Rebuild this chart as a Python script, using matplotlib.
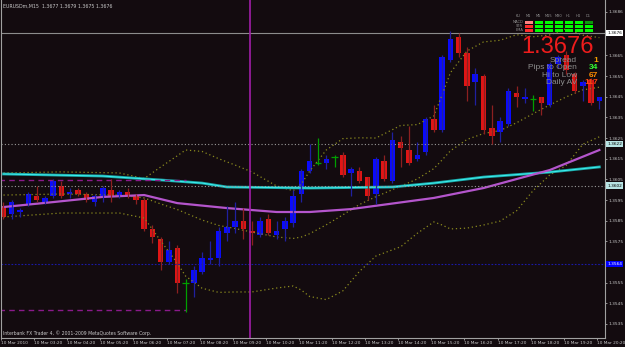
import matplotlib
matplotlib.use("Agg")
import matplotlib.pyplot as plt
import matplotlib.transforms as mtransforms
from matplotlib.patches import Rectangle

# ---- data ----
symbol = "EURUSDm,M15"
last_ohlc = ["1.3677", "1.3679", "1.3675", "1.3676"]

opens = [1.3592, 1.3588, 1.3589, 1.3593, 1.3597, 1.3594, 1.3597, 1.3602, 1.3598, 1.3600,
         1.3598, 1.3594, 1.3596, 1.3600, 1.3597, 1.3599, 1.3597, 1.3595, 1.3581, 1.3576,
         1.3565, 1.3572, 1.3555, 1.3555, 1.3560, 1.3566, 1.3567, 1.3579, 1.3582, 1.3585,
         1.3580, 1.3578, 1.3586, 1.3578, 1.3581, 1.3584, 1.3598, 1.3609, 1.3613, 1.3613,
         1.3616, 1.3617, 1.3608, 1.3609, 1.3606, 1.3598, 1.3614, 1.3604, 1.3623, 1.3619,
         1.3615, 1.3618, 1.3634, 1.3629, 1.3663, 1.3674, 1.3666, 1.3652, 1.3655, 1.3630,
         1.3628, 1.3632, 1.3647, 1.3644, 1.3644, 1.3645, 1.3641, 1.3661, 1.3665, 1.3656,
         1.3650, 1.3653, 1.3643]
highs = [1.3594, 1.3595, 1.3591, 1.3599, 1.3602, 1.3597, 1.3605, 1.3604, 1.3601, 1.3601,
         1.3599, 1.3598, 1.3602, 1.3605, 1.3600, 1.3601, 1.3598, 1.3596, 1.3583, 1.3577,
         1.3575, 1.3573, 1.3557, 1.3563, 1.3570, 1.3575, 1.3582, 1.3592, 1.3594, 1.3591,
         1.3585, 1.3587, 1.3588, 1.3585, 1.3587, 1.3600, 1.3610, 1.3622, 1.3625, 1.3617,
         1.3617, 1.3618, 1.3611, 1.3611, 1.3606, 1.3616, 1.3617, 1.3628, 1.3626, 1.3631,
         1.3623, 1.3635, 1.3641, 1.3665, 1.3677, 1.3676, 1.3669, 1.3659, 1.3656, 1.3641,
         1.3635, 1.3649, 1.3650, 1.3649, 1.3646, 1.3645, 1.3662, 1.3665, 1.3667, 1.3657,
         1.3653, 1.3654, 1.3645]
lows = [1.3586, 1.3586, 1.3587, 1.3592, 1.3594, 1.3593, 1.3596, 1.3596, 1.3596, 1.3597,
        1.3594, 1.3592, 1.3594, 1.3594, 1.3596, 1.3596, 1.3593, 1.3580, 1.3574, 1.3561,
        1.3564, 1.3550, 1.3541, 1.3548, 1.3559, 1.3564, 1.3563, 1.3575, 1.3579, 1.3576,
        1.3573, 1.3577, 1.3578, 1.3576, 1.3575, 1.3582, 1.3594, 1.3608, 1.3612, 1.3610,
        1.3611, 1.3606, 1.3597, 1.3603, 1.3595, 1.3593, 1.3604, 1.3603, 1.3611, 1.3612,
        1.3614, 1.3617, 1.3628, 1.3628, 1.3662, 1.3664, 1.3643, 1.3641, 1.3627, 1.3622,
        1.3623, 1.3631, 1.3640, 1.3642, 1.3638, 1.3636, 1.3640, 1.3659, 1.3656, 1.3647,
        1.3643, 1.3641, 1.3639]
closes = [1.3587, 1.3594, 1.3590, 1.3598, 1.3595, 1.3596, 1.3604, 1.3597, 1.3599, 1.3598,
          1.3595, 1.3597, 1.3601, 1.3597, 1.3599, 1.3597, 1.3595, 1.3581, 1.3577, 1.3565,
          1.3571, 1.3555, 1.3555, 1.3561, 1.3567, 1.3567, 1.3580, 1.3582, 1.3585, 1.3581,
          1.3579, 1.3585, 1.3579, 1.3580, 1.3585, 1.3597, 1.3609, 1.3614, 1.3613, 1.3615,
          1.3616, 1.3607, 1.3610, 1.3604, 1.3597, 1.3615, 1.3605, 1.3624, 1.3620, 1.3613,
          1.3617, 1.3634, 1.3629, 1.3664, 1.3673, 1.3666, 1.3650, 1.3656, 1.3629, 1.3626,
          1.3633, 1.3648, 1.3645, 1.3645, 1.3644, 1.3642, 1.3661, 1.3664, 1.3658, 1.3648,
          1.3652, 1.3642, 1.3645]

# moving averages (bar index, price)
ma_cyan_idx = [0, 12, 19, 24, 27, 37, 47, 52, 58, 66, 72]
ma_cyan = [1.36076, 1.36066, 1.36047, 1.36032, 1.36013, 1.36008, 1.36013, 1.36032,
           1.36061, 1.36085, 1.36110]
ma_violet_idx = [0, 6, 12, 17, 21, 27, 33, 37, 42, 52, 58, 66, 72]
ma_violet = [1.35916, 1.35940, 1.35965, 1.35974, 1.35935, 1.35911, 1.35892, 1.35892,
             1.35906, 1.35960, 1.36008, 1.36095, 1.36192]

# bollinger bands
bb_idx = [0, 7, 14, 17, 19, 21, 22, 24, 26, 28, 30, 33, 35, 36, 37, 39, 41, 43, 45,
          48, 50, 52, 53, 54, 56, 58, 60, 62, 64, 66, 68, 70, 72]
bb_upper = [1.36081, 1.36086, 1.36081, 1.36054, 1.36110, 1.36164, 1.36192, 1.36185,
            1.36150, 1.36119, 1.36086, 1.36018, 1.35995, 1.36028, 1.36090, 1.36192,
            1.36247, 1.36251, 1.36250, 1.36311, 1.36315, 1.36357, 1.36459, 1.36566,
            1.36671, 1.36715, 1.36723, 1.36750, 1.36740, 1.36749, 1.36779, 1.36748, 1.36736]
bb_mid = [1.35974, 1.35979, 1.35974, 1.35960, 1.35931, 1.35904, 1.35887, 1.35853,
          1.35827, 1.35812, 1.35795, 1.35771, 1.35764, 1.35771, 1.35787, 1.35830,
          1.35878, 1.35928, 1.35966, 1.36017, 1.36052, 1.36102, 1.36144, 1.36188,
          1.36243, 1.36272, 1.36286, 1.36324, 1.36368, 1.36410, 1.36449, 1.36483, 1.36496]
bb_lower = [1.35868, 1.35887, 1.35887, 1.35863, 1.35752, 1.35645, 1.35582, 1.35523,
            1.35503, 1.35505, 1.35505, 1.35524, 1.35534, 1.35514, 1.35483, 1.35468,
            1.35510, 1.35604, 1.35679, 1.35724, 1.35789, 1.35844, 1.35829, 1.35810,
            1.35814, 1.35829, 1.35848, 1.35898, 1.35996, 1.36071, 1.36118, 1.36220, 1.36256]

# horizontal levels
bid_price = 1.3676
grey_levels = [1.3622, 1.3602]
blue_level = 1.3564
day_levels = [1.36047, 1.35418]   # dashed purple lines, end at bar 22
day_levels_end = 22
session_bar = 29.8                # vertical magenta line

price_ticks = [1.3686, 1.3665, 1.3655, 1.3645, 1.3635, 1.3625, 1.3615, 1.3605,
               1.3595, 1.3585, 1.3575, 1.3555, 1.3545, 1.3535]
time_labels = ["10 Mar 2010"] + ["10 Mar %02d:20" % h for h in range(3, 21)]

stat_names = ["Spread", "Pips to Open", "Hi to Low", "Daily AV"]
stat_values = ["1", "34", "67", "117"]
stat_colors = ["#f0a000", "#33ff33", "#ff8c00", "#ff4a10"]

timeframes = ["M1", "M5", "M15", "M30", "H1", "H4", "D1"]
signal_rows = ["MACD", "STR", "EMA"]
signals = [[-1, 1, 1, 1, 1, 1, 2],
           [-1, 1, 1, 1, 1, 1, 1],
           [-1, 1, 1, 1, 1, 1, 1]]

# ---- style ----
BG = "#130b0f"
FG = "#c8c8c8"
UP = "#0a0aff"
DOWN = "#e01515"
SMALL = 3.1

W, H = 625, 347
fig = plt.figure(figsize=(W / 100, H / 100), dpi=100, facecolor=BG)
ax = fig.add_axes([1 / W, 9 / H, 604 / W, 338 / H], facecolor=BG)

n = len(opens)
xs = list(range(n))

# bands and averages first, candles on top
for band in (bb_upper, bb_mid, bb_lower):
    ax.plot(bb_idx, band, color="#8a8a1e", lw=0.9, ls=(0, (1, 2.2)))
ax.plot(ma_cyan_idx, ma_cyan, color="#1aa8a8", lw=2.0)
ax.plot(ma_cyan_idx, ma_cyan, color="#3ff0f0", lw=0.7)
ax.plot(ma_violet_idx, ma_violet, color="#b455cc", lw=1.6)

ax.axhline(bid_price, color="#8c8c8c", lw=0.8)
for lv in grey_levels:
    ax.axhline(lv, color="#9a9a9a", lw=0.8, ls=(0, (1, 2)))
ax.axhline(blue_level, color="#1a1aa8", lw=0.8, ls=(0, (1.5, 1.5)))
for lv in day_levels:
    ax.hlines(lv, -1, day_levels_end, color="#8a1a8a", lw=1.0, ls=(0, (4, 3)))
ax.axvline(session_bar, color="#a01ea8", lw=1.2)

for i in xs:
    o, h, l, c = opens[i], highs[i], lows[i], closes[i]
    if c > o:
        ax.vlines(i, l, h, color="#2020a0", lw=0.9)
        ax.bar(i, c - o, bottom=o, width=0.66, color=UP, lw=0)
    elif c < o:
        ax.vlines(i, l, h, color="#8c2020", lw=0.9)
        ax.bar(i, o - c, bottom=c, width=0.66, color=DOWN, lw=0)
    else:
        ax.vlines(i, l, h, color="#00a000", lw=0.9)
        ax.hlines(o, i - 0.4, i + 0.4, color="#00a000", lw=0.9)

ax.set_xlim(-0.18, 72.68)
ax.set_ylim(1.352822, 1.369180)

# right price scale
ax.yaxis.tick_right()
ax.set_yticks(price_ticks)
ax.set_yticklabels(["%.4f" % p for p in price_ticks])
ax.tick_params(axis="y", colors=FG, labelsize=SMALL, length=1.5, width=0.5, pad=1)
# time scale
tick_pos = [4 * k - 0.3 for k in range(len(time_labels))]
ax.set_xticks(tick_pos)
ax.set_xticklabels(time_labels)
for t in ax.get_xticklabels():
    t.set_ha("left")
ax.tick_params(axis="x", colors=FG, labelsize=SMALL, length=1.5, width=0.5, pad=1)

for s in ["left", "right", "bottom"]:
    ax.spines[s].set_color("#a0a0a0")
    ax.spines[s].set_linewidth(0.8)
ax.spines["top"].set_visible(False)

# boxed price labels on the scale
trans = mtransforms.blended_transform_factory(ax.transAxes, ax.transData)
boxes = [(bid_price, "white", "black"),
         (grey_levels[0], "#b8e4e4", "black"),
         (grey_levels[1], "#b8e4e4", "black"),
         (blue_level, "#0000ff", "white")]
for p, fc, tc in boxes:
    ax.text(1.004, p, "%.4f" % p, transform=trans, ha="left", va="center",
            fontsize=SMALL, color=tc, clip_on=False,
            bbox=dict(boxstyle="square,pad=0.25", fc=fc, ec="none"))

# ---- overlay in pixel coordinates for chart texts ----
ov = fig.add_axes([0, 0, 1, 1], facecolor="none")
ov.set_xlim(0, W)
ov.set_ylim(H, 0)
ov.axis("off")

ov.text(3, 6, symbol + "  " + " ".join(last_ohlc), fontsize=3.4, color=FG,
        va="center", ha="left")
ov.text(3, 333, "Interbank FX Trader 4, \u00a9 2001-2009 MetaQuotes Software Corp.",
        fontsize=3.3, color=FG, va="center", ha="left")

# signal grid
ov.text(518, 16, "KU", fontsize=2.6, color="#909090", ha="center", va="center")
for j, tf in enumerate(timeframes):
    cx = 528.5 + 10 * j
    ov.text(cx, 16, tf, fontsize=2.6, color="#909090", ha="center", va="center")
    for r in range(len(signal_rows)):
        s = signals[r][j]
        col = {-1: "#ff2a2a", 1: "#00ff00", 2: "#0a9a0a"}[s]
        if s == -1 and r == 0:
            col = "#ff8080"
        ov.add_patch(Rectangle((cx - 4, 21 + 4 * r), 8, 2.8, color=col, lw=0))
for r, name in enumerate(signal_rows):
    ov.text(523, 22.4 + 4 * r, name, fontsize=2.6, color="#909090", ha="right",
            va="center")

ov.text(594, 53, "1.3676", fontsize=17, color="#ee1c1c", family="Liberation Sans",
        ha="right", va="baseline")
for k, (nm, val, col) in enumerate(zip(stat_names, stat_values, stat_colors)):
    yb = 62 + 7.4 * k
    ov.text(577, yb, nm, fontsize=6, color="#8c8c8c", family="Liberation Sans",
            ha="right", va="baseline")
    ov.text(598, yb, val, fontsize=6, color=col, family="Liberation Sans",
            ha="right", va="baseline", fontweight="bold")

fig.savefig("out.png", dpi=100, facecolor=BG)
